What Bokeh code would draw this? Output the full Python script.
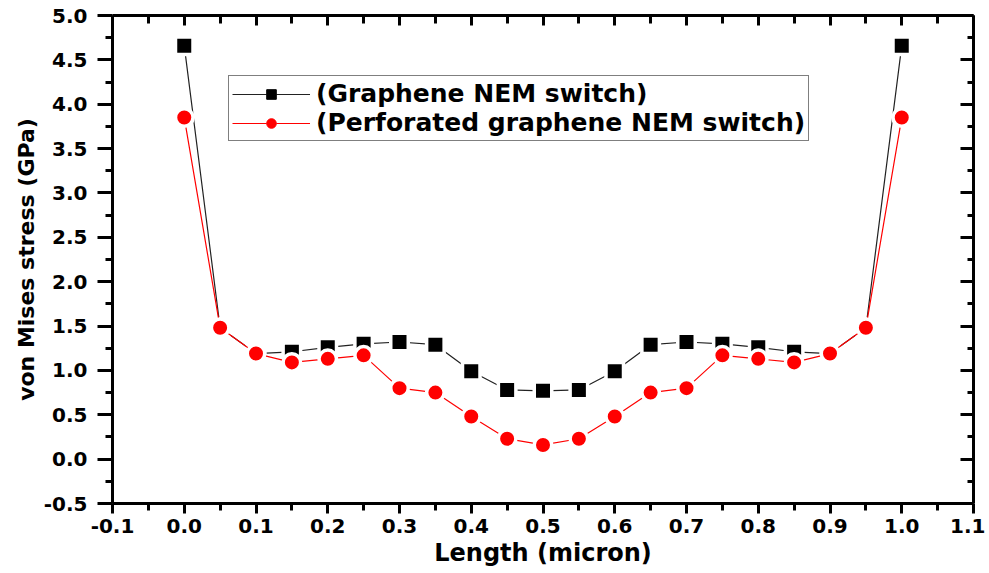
from bokeh.plotting import figure
from bokeh.models import (ColumnDataSource, LinearAxis, Range1d, Legend, LegendItem,
                          FixedTicker, NumeralTickFormatter, CustomJSTickFormatter)
from bokeh.embed import file_html
from bokeh.resources import INLINE

# ---- data ----
length = [0.0, 0.05, 0.1, 0.15, 0.2, 0.25, 0.3, 0.35, 0.4, 0.45, 0.5,
          0.55, 0.6, 0.65, 0.7, 0.75, 0.8, 0.85, 0.9, 0.95, 1.0]
graphene = [4.66, 1.48, 1.19, 1.21, 1.26, 1.30, 1.32, 1.29, 0.99, 0.78, 0.77,
            0.78, 0.99, 1.29, 1.32, 1.30, 1.26, 1.21, 1.19, 1.48, 4.66]
perforated = [3.85, 1.48, 1.19, 1.09, 1.13, 1.17, 0.80, 0.75, 0.48, 0.23, 0.16,
              0.23, 0.48, 0.75, 0.80, 1.17, 1.13, 1.09, 1.19, 1.48, 3.85]
series_labels = ["(Graphene NEM switch)", "(Perforated graphene NEM switch)"]
x_ticks = [-0.1, 0.0, 0.1, 0.2, 0.3, 0.4, 0.5, 0.6, 0.7, 0.8, 0.9, 1.0, 1.1]
y_ticks = [-0.5, 0.0, 0.5, 1.0, 1.5, 2.0, 2.5, 3.0, 3.5, 4.0, 4.5, 5.0]
x_minor = [-0.05 + 0.1 * i for i in range(12)]
y_minor = [-0.25 + 0.5 * i for i in range(11)]

FONT = "DejaVu Sans"

p = figure(width=985, height=573, output_backend="svg", toolbar_location=None,
           x_range=Range1d(-0.1, 1.1), y_range=Range1d(-0.5, 5.0),
           x_axis_location=None, y_axis_location=None,
           min_border_left=112, min_border_right=12, min_border_top=15,
           min_border_bottom=70)
p.outline_line_color = None
p.xgrid.visible = False
p.ygrid.visible = False
p.background_fill_color = "white"
p.border_fill_color = "white"

src = ColumnDataSource(dict(x=length, g=graphene, pf=perforated))

l1 = p.line("x", "g", source=src, line_color="#222222", line_width=1.2)
m1 = p.scatter("x", "g", source=src, marker="square", size=17.5,
               fill_color="black", line_color="white", line_width=3.5)
l2 = p.line("x", "pf", source=src, line_color="red", line_width=1.2)
m2 = p.scatter("x", "pf", source=src, marker="circle", size=17.5,
               fill_color="red", line_color="white", line_width=3.5)

# legend-only markers (smaller, with a gap in the line around them)
dummy = ColumnDataSource(dict(x=[float("nan")], y=[float("nan")]))
g1 = p.scatter("x", "y", source=dummy, marker="square", size=22,
               fill_color="white", line_color=None)
d1 = p.scatter("x", "y", source=dummy, marker="square", size=10,
               fill_color="black", line_color="black")
g2 = p.scatter("x", "y", source=dummy, marker="square", size=22,
               fill_color="white", line_color=None)
d2 = p.scatter("x", "y", source=dummy, marker="circle", size=11,
               fill_color="red", line_color="red")


def style_axis(ax, labels=True):
    ax.axis_line_width = 3
    ax.axis_line_color = "black"
    ax.major_tick_line_width = 3
    ax.minor_tick_line_width = 3
    ax.major_tick_line_color = "black"
    ax.minor_tick_line_color = "black"
    if labels:
        ax.major_label_text_font = FONT
        ax.major_label_text_font_style = "bold"
        ax.major_label_text_font_size = "20px"
        ax.major_label_text_color = "black"
        ax.axis_label_text_font = FONT
        ax.axis_label_text_font_style = "bold"
        ax.axis_label_text_font_size = "24px"
        ax.axis_label_text_color = "black"
    else:
        ax.formatter = CustomJSTickFormatter(code="return '';")
        ax.major_label_standoff = 0


xt = FixedTicker(ticks=x_ticks, minor_ticks=x_minor)
yt = FixedTicker(ticks=y_ticks, minor_ticks=y_minor)
fmt = NumeralTickFormatter(format="0.0")

bottom = LinearAxis(ticker=xt, formatter=fmt, axis_label="Length (micron)")
style_axis(bottom)
bottom.major_tick_out = 10
bottom.major_tick_in = 0
bottom.minor_tick_out = 7
bottom.minor_tick_in = 0
bottom.major_label_standoff = 5
bottom.axis_label_standoff = 3
p.add_layout(bottom, "below")

left = LinearAxis(ticker=yt, formatter=fmt, axis_label="von Mises stress (GPa)")
style_axis(left)
left.major_tick_out = 15
left.major_tick_in = 0
left.minor_tick_out = 7
left.minor_tick_in = 0
left.major_label_standoff = 10
left.axis_label_standoff = 2
left.axis_label_text_font_size = "22px"
p.add_layout(left, "left")

top = LinearAxis(ticker=xt)
style_axis(top, labels=False)
top.major_tick_out = 0
top.major_tick_in = 10
top.minor_tick_out = 0
top.minor_tick_in = 8
p.add_layout(top, "above")

right = LinearAxis(ticker=yt)
style_axis(right, labels=False)
right.major_tick_out = 0
right.major_tick_in = 13
right.minor_tick_out = 0
right.minor_tick_in = 6
p.add_layout(right, "right")

legend = Legend(items=[
    LegendItem(label=series_labels[0], renderers=[l1, g1, d1]),
    LegendItem(label=series_labels[1], renderers=[l2, g2, d2]),
], location=(116, 362))
legend.label_text_font = FONT
legend.label_text_font_style = "bold"
legend.label_text_font_size = "25px"
legend.label_text_color = "black"
legend.glyph_width = 78
legend.glyph_height = 24
legend.label_height = 24
legend.label_standoff = 6
legend.spacing = 0
legend.padding = 3
legend.margin = 0
legend.border_line_color = "black"
legend.border_line_width = 1.5
legend.background_fill_alpha = 1.0
p.add_layout(legend, "center")

open("out.html", "w").write(file_html(p, INLINE))
